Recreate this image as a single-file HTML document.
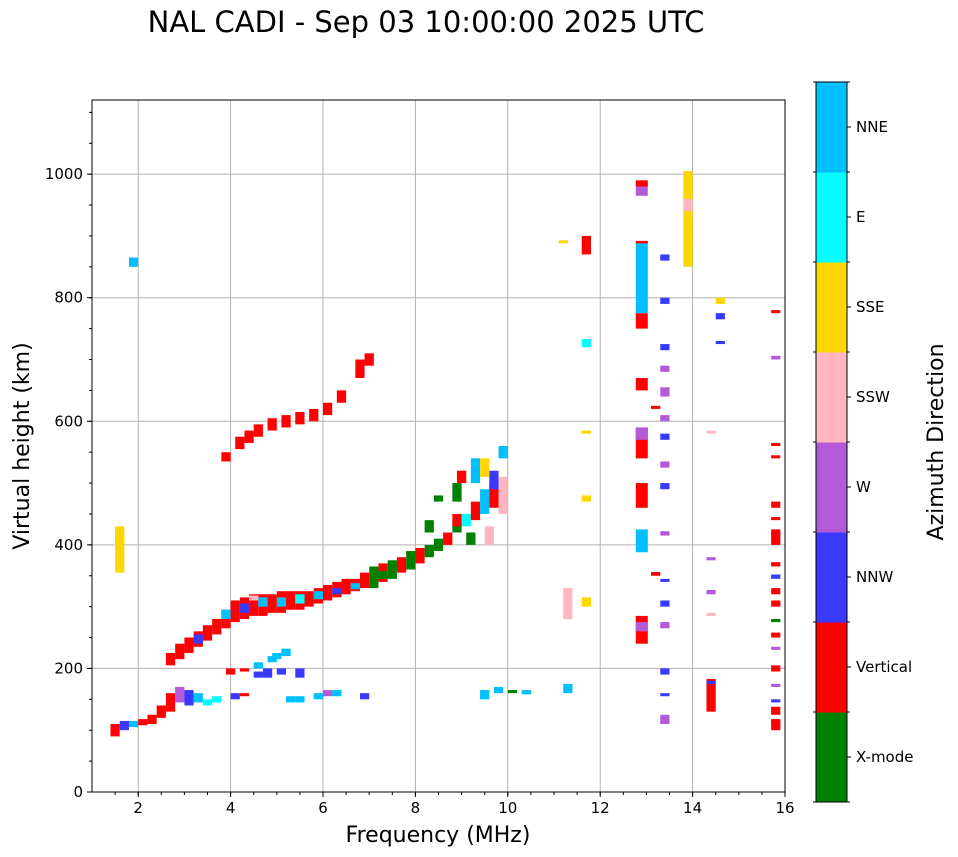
<!DOCTYPE html>
<html><head><meta charset="utf-8">
<style>
body{margin:0;background:#fff;width:958px;height:857px;overflow:hidden;font-family:"DejaVu Sans","Liberation Sans",sans-serif}
svg{display:block}
</style></head>
<body>
<svg id="chart" width="958" height="857" xmlns="http://www.w3.org/2000/svg" font-family="DejaVu Sans, Liberation Sans, sans-serif">
<text x="426" y="32" font-size="29" text-anchor="middle">NAL CADI - Sep 03 10:00:00 2025 UTC</text>
<g id="grid"></g>
<g id="marks"></g>
<rect x="92" y="100" width="693" height="692" fill="none" stroke="#000" stroke-width="1"/>
<g id="axes"></g>
<text x="438" y="842" font-size="22" text-anchor="middle">Frequency (MHz)</text>
<text transform="translate(29,446) rotate(-90)" font-size="22" text-anchor="middle">Virtual height (km)</text>
<g id="cbar"></g>
<text transform="translate(943,442) rotate(-90)" font-size="22" text-anchor="middle">Azimuth Direction</text>
</svg>
<script>
const dirNames=["X-mode","Vertical","NNW","W","SSW","SSE","E","NNE"];
const dirColors=["#008000","#ff0000","#3a3aff","#b45ad8","#ffb6c1","#ffd700","#00ffff","#00bfff"];
const xTicks=[2,4,6,8,10,12,14,16];
const yTicks=[0,200,400,600,800,1000];
// echo records: centre frequency (MHz), low/high virtual height (km), direction index
const echoFreq=[2.7,2.9,3.1,3.3,3.5,3.7,3.9,4.1,4.3,4.5,4.7,4.9,5.1,5.3,5.5,5.7,5.9,6.1,6.3,6.5,6.7,6.9,7.1,7.3,7.5,7.7,7.9,8.1,8.3,8.5,8.7,8.9,9.1,9.3,9.5,9.7,9.9,
3.3,3.9,4.3,4.7,5.1,5.5,4.5,5.9,6.3,6.7,7.3,
1.5,1.7,1.9,2.1,2.3,2.5,2.7,2.9,3.1,3.3,3.5,3.7,4.1,4.3,5.3,5.5,5.9,6.1,6.3,6.9,
4.0,4.3,4.6,4.8,5.1,5.5,4.6,4.9,5.2,5.0,
3.9,4.2,4.4,4.6,4.9,5.2,5.5,5.8,6.1,6.4,6.8,7.0,
8.5,8.9,9.0,9.3,9.5,9.7,8.9,9.2,9.6,9.9,8.3,
9.5,9.8,10.1,10.4,11.3,
1.6,1.6,1.9,11.2,11.7,11.3,11.7,11.7,11.7,11.7,
12.9,12.9,12.9,12.9,12.9,12.9,12.9,12.9,12.9,12.9,12.9,12.9,13.2,13.2,
13.4,13.4,13.4,13.4,13.4,13.4,13.4,13.4,13.4,13.4,13.4,13.4,13.4,13.4,13.4,13.4,
13.9,13.9,13.9,13.9,13.9,13.9,
14.4,14.4,14.4,14.4,14.4,14.4,14.6,14.6,14.6,
15.8,15.8,15.8,15.8,15.8,15.8,15.8,15.8,15.8,15.8,15.8,15.8,15.8,15.8,15.8,15.8,15.8,15.8,15.8,15.8,15.8];
const echoLow=[205,215,225,235,245,255,265,275,280,285,285,290,290,295,295,300,305,310,315,320,325,330,330,340,345,355,360,370,380,390,400,420,430,440,450,460,450,
240,280,290,300,300,305,310,312,320,328,345,
90,100,105,108,110,120,130,145,140,145,140,145,150,155,145,145,150,155,155,150,
190,195,185,185,190,185,200,210,220,215,
535,555,565,575,585,590,595,600,610,630,670,690,
470,470,500,500,510,490,430,400,400,540,420,
150,160,160,158,160,
355,400,850,888,870,280,300,470,580,720,
750,775,888,650,540,570,460,388,240,260,965,980,620,350,
110,155,190,265,300,340,415,490,525,570,600,640,680,715,790,860,
850,880,910,940,960,990,
130,175,285,320,375,580,725,765,790,
100,110,125,145,170,195,230,250,275,300,320,345,365,400,415,440,460,540,560,700,775];
const echoHigh=[225,240,250,260,270,280,295,310,315,320,320,320,325,325,325,325,330,335,340,345,345,355,365,370,375,380,390,395,400,410,420,440,450,470,490,500,510,
255,295,305,315,315,320,318,325,330,338,358,
110,115,115,118,125,140,160,170,165,160,150,155,160,160,155,155,160,165,165,160,
200,200,195,200,200,200,210,220,232,225,
550,575,585,595,605,610,615,620,630,650,700,710,
480,500,520,540,540,520,450,420,430,560,440,
165,170,165,165,175,
430,420,865,893,900,330,315,480,585,733,
775,890,892,670,590,590,500,425,285,275,985,990,625,356,
125,160,200,275,310,345,422,500,535,580,610,655,690,725,800,870,
1005,900,940,970,990,1000,
183,180,290,327,380,585,730,775,800,
115,118,138,150,175,205,235,258,280,310,330,352,372,420,425,445,470,545,565,706,780];
const echoDir=[1,1,1,1,1,1,1,1,1,1,1,1,1,1,1,1,1,1,1,1,1,1,0,1,0,1,0,1,0,0,1,0,6,1,7,1,4,
2,7,2,7,7,6,4,7,2,7,0,
1,2,7,1,1,1,1,3,2,7,6,6,2,1,7,7,7,3,7,2,
1,1,2,2,2,2,7,7,7,7,
1,1,1,1,1,1,1,1,1,1,1,1,
0,0,1,7,5,2,1,0,4,7,0,
7,7,0,7,7,
5,5,7,5,1,4,5,5,5,6,
1,7,1,1,1,3,1,7,1,3,3,1,1,1,
3,2,2,3,2,2,3,2,3,2,3,3,3,2,2,2,
5,5,5,4,5,5,
1,2,4,3,3,4,2,2,5,
1,1,1,2,3,1,3,1,0,1,1,2,1,1,1,1,1,1,1,3,1];
const echoWidth=0.2;

const NS="http://www.w3.org/2000/svg";
const X0=92,X1=785,Y0=792,Y1=100,FMIN=1,FMAX=16,HMIN=0,HMAX=1120;
const xs=f=>X0+(f-FMIN)/(FMAX-FMIN)*(X1-X0);
const ys=h=>Y0-(h-HMIN)/(HMAX-HMIN)*(Y0-Y1);
function mk(tag,attrs,parent){const e=document.createElementNS(NS,tag);for(const k in attrs)e.setAttribute(k,attrs[k]);parent.appendChild(e);return e;}
const grid=document.getElementById('grid'),axes=document.getElementById('axes'),marks=document.getElementById('marks'),cbar=document.getElementById('cbar');
xTicks.forEach(t=>{
 if(t<FMAX){const l=mk('line',{x1:xs(t),x2:xs(t),y1:Y1,y2:Y0,stroke:'#b0b0b0','stroke-width':1},grid);
 
 }
 mk('line',{x1:xs(t),x2:xs(t),y1:Y0,y2:Y0+5,stroke:'#000'},axes);
 const tx=mk('text',{x:xs(t),y:Y0+21,'font-size':15,'text-anchor':'middle'},axes);tx.textContent=t;
 
 
});
for(let f=1.5;f<FMAX;f+=0.5){mk('line',{x1:xs(f),x2:xs(f),y1:Y0,y2:Y0+3,stroke:'#000'},axes);}
yTicks.forEach(t=>{
 const l=mk('line',{x1:X0,x2:X1,y1:ys(t),y2:ys(t),stroke:'#b0b0b0','stroke-width':1},grid);
 
 
 mk('line',{x1:X0-5,x2:X0,y1:ys(t),y2:ys(t),stroke:'#000'},axes);
 const tx=mk('text',{x:X0-9,y:ys(t)+5,'font-size':15,'text-anchor':'end'},axes);tx.textContent=t;
 
 
});
for(let h=50;h<HMAX;h+=50){mk('line',{x1:X0-3,x2:X0,y1:ys(h),y2:ys(h),stroke:'#000'},axes);}
for(let i=0;i<echoFreq.length;i++){
 const w=(echoFreq[i]>=12.8&&echoFreq[i]<=13.0)?0.26:echoWidth;
 const x=xs(echoFreq[i]-w/2),x2=xs(echoFreq[i]+w/2);
 const y=ys(echoHigh[i]),y2=ys(echoLow[i]);
 const r=mk('rect',{x:x,y:y,width:x2-x,height:Math.max(2,y2-y),fill:dirColors[echoDir[i]]},marks);
 
 
}
const CX=816,CW=31,CT=82,CB=802,seg=(CB-CT)/dirNames.length;
dirNames.forEach((n,i)=>{
 const yy=CB-(i+1)*seg;
 const r=mk('rect',{x:CX,y:yy,width:CW,height:seg+0.5,fill:dirColors[i]},cbar);
 
 
 mk('line',{x1:CX+CW,x2:CX+CW+4,y1:yy+seg/2,y2:yy+seg/2,stroke:'#000'},cbar);
 const tx=mk('text',{x:CX+CW+9,y:yy+seg/2+5,'font-size':15},cbar);tx.textContent=n;
 
 
});
for(let i=0;i<=dirNames.length;i++){const yy=CB-i*seg;mk('line',{x1:CX+CW,x2:CX+CW+3,y1:yy,y2:yy,stroke:'#000'},cbar);mk('line',{x1:CX-3,x2:CX,y1:yy,y2:yy,stroke:'#000'},cbar);}
mk('rect',{x:CX,y:CT,width:CW,height:CB-CT,fill:'none',stroke:'#000'},cbar);
</script>
</body></html>
